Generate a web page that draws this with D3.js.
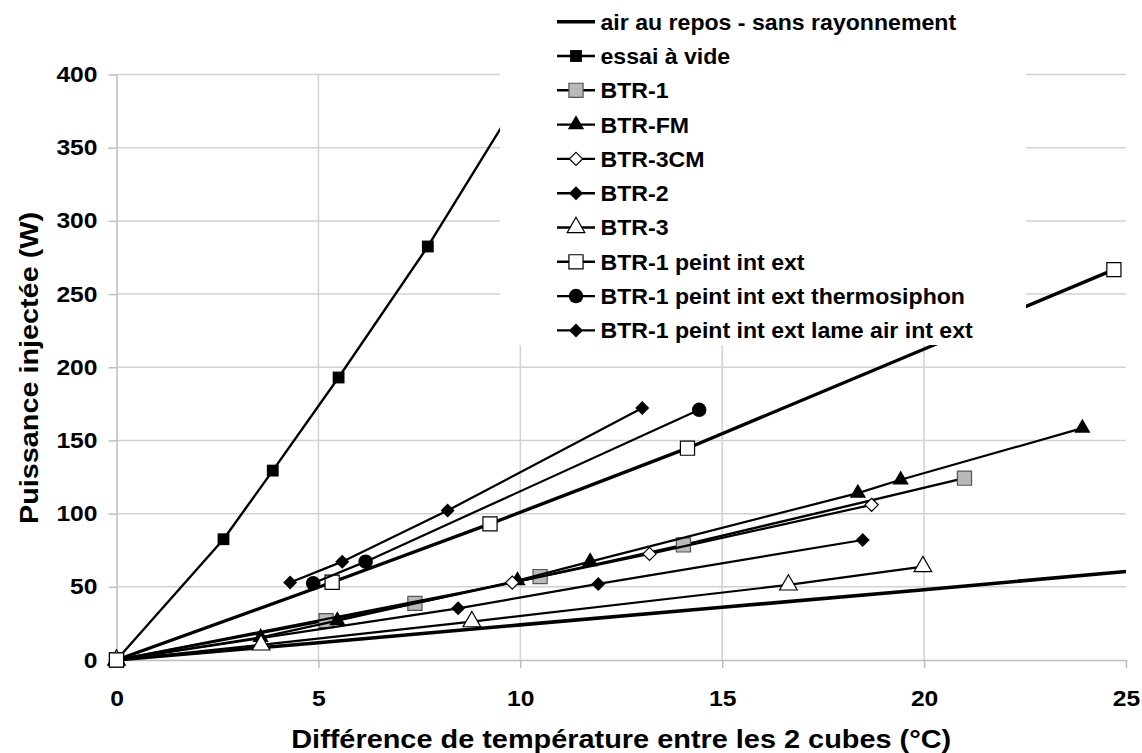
<!DOCTYPE html>
<html lang="fr">
<head>
<meta charset="UTF-8">
<title>Puissance injectée</title>
<script src="https://cdn.jsdelivr.net/npm/d3@7"></script>
<style>
  body { margin: 0; background: #fff; }
  svg { display: block; font-family: "Liberation Sans", Arial, sans-serif; font-weight: bold; }
</style>
</head>
<body>
<svg width="1142" height="753"></svg>
<script>
// --- data ---
const xTicks = [0, 5, 10, 15, 20, 25];
const yTicks = [0, 50, 100, 150, 200, 250, 300, 350, 400];

const airX = [0, 5, 10, 15, 20, 25];
const airY = [0, 11.8, 24, 36, 48, 60.5];
const essaiX = [0, 2.65, 3.87, 5.5, 7.71, 10];
const essaiY = [0, 82.5, 129.4, 193, 282.5, 385];
const btr1X = [0, 5.19, 7.39, 10.49, 14.04, 21.0];
const btr1Y = [0, 26.9, 38.7, 57, 78.6, 124.2];
const btrFmX = [0, 3.57, 5.47, 9.93, 11.73, 18.36, 19.42, 23.92];
const btrFmY = [0, 15.5, 26.9, 54.2, 67.2, 114, 123.1, 158.4];
const btr3cmX = [0, 9.8, 13.2, 18.7];
const btr3cmY = [0, 52.9, 72.5, 106];
const btr2X = [0, 8.46, 11.93, 18.48];
const btr2Y = [0, 35.3, 52, 82];
const btr3X = [0, 3.58, 8.8, 16.64, 19.97];
const btr3Y = [0, 10.3, 26.2, 51.3, 63.8];
const peintX = [0, 5.34, 9.25, 14.14, 24.7];
const peintY = [0, 53.1, 93, 144.7, 266.7];
const thermoX = [4.87, 6.17, 14.43];
const thermoY = [52.4, 67.2, 170.9];
const lameX = [4.3, 5.59, 8.2, 13.02];
const lameY = [52.9, 67.2, 102.1, 172.1];

const names = ["air au repos - sans rayonnement", "essai à vide", "BTR-1", "BTR-FM", "BTR-3CM",
  "BTR-2", "BTR-3", "BTR-1 peint int ext", "BTR-1 peint int ext thermosiphon",
  "BTR-1 peint int ext lame air int ext"];

const diamond = d3.symbolDiamond2 || d3.symbolDiamond;
const series = [
  {xs: airX, ys: airY, sym: null, w: 3.6},
  {xs: essaiX, ys: essaiY, sym: d3.symbolSquare, size: 140, fill: "#000", w: 2.4},
  {xs: btr1X, ys: btr1Y, sym: d3.symbolSquare, size: 200, fill: "#b9b9b9", stroke: "#555", w: 2.4},
  {xs: btrFmX, ys: btrFmY, sym: d3.symbolTriangle, size: 115, fill: "#000", w: 2.2},
  {xs: btr3cmX, ys: btr3cmY, sym: diamond, size: 110, fill: "#fff", stroke: "#000", w: 2.2},
  {xs: btr2X, ys: btr2Y, sym: diamond, size: 125, fill: "#000", w: 2.2},
  {xs: btr3X, ys: btr3Y, sym: d3.symbolTriangle, size: 135, fill: "#fff", stroke: "#000", w: 2.2},
  {xs: peintX, ys: peintY, sym: d3.symbolSquare, size: 200, fill: "#fff", stroke: "#000", w: 3.4},
  {xs: thermoX, ys: thermoY, sym: d3.symbolCircle, size: 165, fill: "#000", w: 2.2},
  {xs: lameX, ys: lameY, sym: diamond, size: 125, fill: "#000", w: 2.2}
];

const svg = d3.select("svg");
const m = {left: 116.5, top: 74.5, right: 1126, bottom: 660};

const x = d3.scaleLinear().domain([0, 25]).range([m.left, m.right]);
const y = d3.scaleLinear().domain([0, 400]).range([m.bottom, m.top]);

// the original's bold face is wider than Liberation Sans: stretch the glyphs a little
function widen(sel, k) {
  sel.each(function () {
    const w = this.getComputedTextLength();
    d3.select(this).attr("textLength", w * k).attr("lengthAdjust", "spacingAndGlyphs");
  });
}

// grid
svg.append("g").selectAll("line")
  .data(yTicks.filter(d => d > 0)).join("line")
  .attr("x1", x(0)).attr("x2", x(25))
  .attr("y1", d => y(d)).attr("y2", d => y(d))
  .attr("stroke", "#d2d2d2").attr("stroke-width", 1.5);
svg.append("g").selectAll("line")
  .data(xTicks.filter(d => d > 0 && d < 25)).join("line")
  .attr("x1", d => x(d)).attr("x2", d => x(d))
  .attr("y1", y(400)).attr("y2", y(0))
  .attr("stroke", "#d2d2d2").attr("stroke-width", 1.5);

// axes
const xAxis = svg.append("g")
  .attr("transform", `translate(0,${m.bottom})`)
  .call(d3.axisBottom(x).tickValues(xTicks).tickSizeInner(8).tickSizeOuter(0).tickPadding(22));
const yAxis = svg.append("g")
  .attr("transform", `translate(${m.left},0)`)
  .call(d3.axisLeft(y).tickValues(yTicks).tickSizeInner(8).tickSizeOuter(0).tickPadding(11));
[xAxis, yAxis].forEach(a => {
  a.select(".domain").attr("stroke", "#bdbdbd").attr("stroke-width", 1.5);
  a.selectAll(".tick line").attr("stroke", "#bdbdbd").attr("stroke-width", 1.5);
  a.selectAll("text").attr("font-size", 22).attr("fill", "#000")
    .attr("font-family", "Liberation Sans, Arial, sans-serif").attr("font-weight", "bold");
  widen(a.selectAll("text"), 1.12);
});

// series
const line = d3.line().x(d => x(d[0])).y(d => y(d[1]));
const plot = svg.append("g");
series.forEach(s => {
  const pts = s.xs.map((v, i) => [v, s.ys[i]]);
  plot.append("path").datum(pts)
    .attr("d", line).attr("fill", "none")
    .attr("stroke", "#000").attr("stroke-width", s.w).attr("stroke-linejoin", "round");
  if (s.sym) {
    plot.append("g").selectAll("path").data(pts).join("path")
      .attr("transform", d => `translate(${x(d[0])},${y(d[1])})`)
      .attr("d", d3.symbol(s.sym, s.size))
      .attr("fill", s.fill).attr("stroke", s.stroke || "none").attr("stroke-width", 1.2);
  }
});

// legend (opaque box over the plot, like the original)
const leg = svg.append("g");
leg.append("rect").attr("x", 500).attr("y", 0).attr("width", 526).attr("height", 345).attr("fill", "#fff");
const rows = leg.selectAll("g.row").data(series).join("g")
  .attr("class", "row")
  .attr("transform", (d, i) => `translate(576,${21.7 + i * 34.3})`);
rows.append("line").attr("x1", -19).attr("x2", 19)
  .attr("stroke", "#000").attr("stroke-width", (d, i) => i === 0 ? 3.6 : 2.4);
rows.filter(d => d.sym).append("path")
  .attr("d", d => d3.symbol(d.sym, d.size)())
  .attr("fill", d => d.fill).attr("stroke", d => d.stroke || "none").attr("stroke-width", 1.2);
const legText = rows.append("text")
  .attr("x", 24.5).attr("dy", "0.36em")
  .attr("font-size", 22).text((d, i) => names[i]);
widen(legText, 1.05);

// axis titles
svg.append("text")
  .attr("x", (m.left + m.right) / 2).attr("y", 748)
  .attr("text-anchor", "middle").attr("font-size", 25)
  .attr("textLength", 660).attr("lengthAdjust", "spacingAndGlyphs")
  .text("Différence de température entre les 2 cubes (°C)");
svg.append("text")
  .attr("transform", "translate(38,368) rotate(-90)")
  .attr("text-anchor", "middle").attr("font-size", 25)
  .attr("textLength", 312).attr("lengthAdjust", "spacingAndGlyphs")
  .text("Puissance injectée (W)");
</script>
</body>
</html>
